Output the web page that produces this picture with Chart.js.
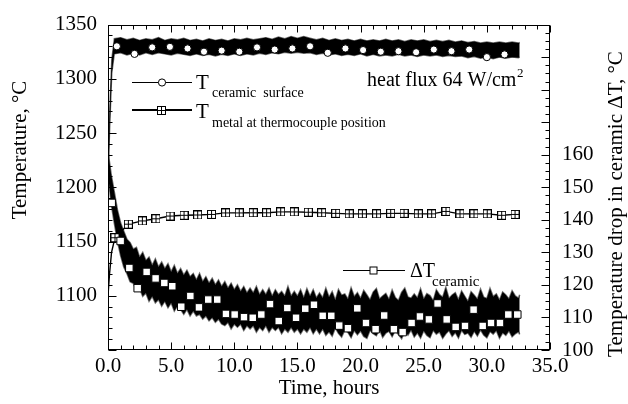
<!DOCTYPE html>
<html>
<head>
<meta charset="utf-8">
<script src="https://cdn.jsdelivr.net/npm/chart.js@4.4.1/dist/chart.umd.min.js"></script>
<style>
  html, body { margin: 0; padding: 0; background: #fff; }
  #wrap { width: 628px; height: 404px; }
</style>
</head>
<body>
<div id="wrap"><canvas id="c" width="628" height="404"></canvas></div>
<script>
// ---- axis ticks ----
const hourTicks = [0, 5, 10, 15, 20, 25, 30, 35];
const tempTicks = [1100, 1150, 1200, 1250, 1300, 1350];
const dropTicks = [100, 110, 120, 130, 140, 150, 160];

// ---- ceramic surface temperature: recorded band (upper / lower edge), deg C ----
const surfT = [0,0.15,0.3,0.5,1,1.5,2,2.5,3,3.5,4,4.5,5,5.5,6,6.5,7,7.5,8,8.5,9,9.5,10,10.5,11,11.5,12,12.5,13,13.5,14,14.5,15,15.5,16,16.5,17,17.5,18,18.5,19,19.5,20,20.5,21,21.5,22,22.5,23,23.5,24,24.5,25,25.5,26,26.5,27,27.5,28,28.5,29,29.5,30,30.5,31,31.5,32,32.5,32.6];
const surfHigh = [1215,1275,1318,1337,
  1338,1336,1337.5,1335.5,1337,1336,1338,1335.5,1337,1336,
  1337.5,1335.5,1336.5,1335,1337,1335.5,1336.5,1335,1337,1336,
  1337.5,1336,1337,1338,1336.5,1338.5,1337,1339,1337.5,1339,
  1337.5,1336,1337.5,1335.5,1337,1335.5,1336.5,1335,1336.5,1335,
  1336,1335,1336.5,1335,1336,1334.5,1336,1335,1336,1334.5,
  1335.5,1334.5,1335.5,1334,1335,1333.5,1334.5,1333,1334,1333,
  1334,1333,1334,1333,1333.5];
const surfLow = [1205,1260,1305,1323,
  1324,1322,1323.5,1322,1324,1322.5,1324,1323,1322,1323.5,
  1322.5,1321.5,1323,1321.5,1322.5,1321,1322.5,1321.5,1323,1321.5,
  1323,1322,1323.5,1322.5,1324,1323,1324.5,1323.5,1324.5,1323.5,
  1324,1322.5,1323.5,1322,1323,1321.5,1322.5,1321.5,1323,1321,
  1322.5,1321,1322,1321,1322.5,1321,1322,1320.5,1322,1321,
  1322,1320.5,1321.5,1320.5,1321,1319.5,1320.5,1319,1320,1318.5,
  1320,1319,1320,1319.5,1320];
// marked samples (open circles)
const surfMarkT = [0.7,2.1,3.5,4.9,6.3,7.6,9.0,10.4,11.8,13.2,14.6,16.0,17.4,18.8,20.2,21.6,23.0,24.4,25.8,27.2,28.6,30.0,31.4];
const surfMarkV = [1330,1323,1329,1329.5,1328,1325,1326,1325,1329,1327,1328,1330,1324,1328,1326.5,1325,1325.5,1324.5,1327,1325.5,1327,1320,1322.5];

// ---- metal temperature at thermocouple position, deg C ----
const metalStartT = [0, 0.12, 0.28];
const metalStartV = [1100, 1120, 1140];
const metalMarkT = [0.55,1.61,2.72,3.8,4.91,6.02,7.1,8.2,9.31,10.39,11.5,12.56,13.67,14.75,15.86,16.92,18.03,19.1,20.14,21.27,22.38,23.44,24.57,25.63,26.76,27.87,28.98,30.03,31.17,32.23];
const metalMarkV = [1153.5,1166,1169,1171,1173.5,1174.2,1174.5,1175,1176.4,1176.4,1176.5,1176.5,1177.3,1177.3,1177,1176.5,1176,1175.5,1175.5,1175.5,1176,1176,1175.5,1175.5,1177.8,1175.5,1175.5,1175.5,1174.2,1175];
const metalEndT = [32.6];
const metalEndV = [1178];

// ---- temperature drop across the ceramic: recorded band, deg C ----
const dropT = [0,0.25,0.5,0.75,1,1.25,1.5,1.75,2,2.25,2.5,2.75,3,3.25,3.5,3.75,4,4.25,4.5,4.75,5,5.25,5.5,5.75,6,6.25,6.5,6.75,7,7.25,7.5,7.75,8,8.25,8.5,8.75,9,9.25,9.5,9.75,10,10.25,10.5,10.75,11,11.25,11.5,11.75,12,12.25,12.5,12.75,13,13.25,13.5,13.75,14,14.25,14.5,14.75,15,15.25,15.5,15.75,16,16.25,16.5,16.75,17,17.25,17.5,17.75,18,18.25,18.5,18.75,19,19.25,19.5,19.75,20,20.25,20.5,20.75,21,21.25,21.5,21.75,22,22.25,22.5,22.75,23,23.25,23.5,23.75,24,24.25,24.5,24.75,25,25.25,25.5,25.75,26,26.25,26.5,26.75,27,27.25,27.5,27.75,28,28.25,28.5,28.75,29,29.25,29.5,29.75,30,30.25,30.5,30.75,31,31.25,31.5,31.75,32,32.25,32.5,32.6];
const dropHigh = [
  161,154,148.5,143,139,136.5,134,133,131,131.5,
  128.5,130,127.5,128.5,126,128,125.5,127,125,126.5,
  124,126,123.5,125,123,124.5,122.5,123.5,121.5,123.5,
  121,122.5,120.5,122,120,121.5,119.5,121,119,120.5,
  118.5,120,118,119.5,117.5,119,117.5,119.5,117,118.5,
  117,119,116.5,118.5,117,118,116.5,119.5,116.5,118,
  116.5,118.5,116,118.8,116.5,118.5,116,117.5,116,119,
  116.2,117.9,115.3,118.6,116.8,117.2,115.6,119.1,116.4,117.6,
  115.8,118.3,116.9,115.4,117.8,118.9,115.7,116.6,117.4,115.5,
  118.4,116.1,115.2,117.7,119.0,116.3,115.9,117.2,116.0,118.8,
  115.6,117.3,116.7,115.1,118.5,117.0,116.2,119.2,115.8,116.9,
  117.6,115.4,118.1,116.5,114.9,117.9,116.8,115.6,118.7,116.2,
  115.8,118.9,116.4,117.2,115.3,117.8,116.9,115.7,118.2,116.6,
  115.9,117.0];
const dropLow = [
  154,145,139,133.5,129,125.5,123.5,121,120.5,118.5,
  119,116.5,117.5,115,116.5,114.5,115.5,113.5,115,113,
  114.5,112,113.5,112.5,111,112.5,110.5,112,110.5,111,
  109.5,110.5,109,110,108.5,109.5,108,107.5,108.5,106.5,
  108,107,108,106,107.5,106.5,107.5,105.5,107,106,
  107.5,105.5,107,106,107,105,106.5,105.5,107,105.5,
  106.5,105,106.5,105.5,107,105,106.5,105,106.5,104.5,
  105.6,104.3,106.8,105.1,104.0,106.2,105.4,103.8,106.0,104.7,
  105.9,104.2,103.6,106.1,105.0,104.4,106.3,103.9,105.2,105.8,
  104.1,106.0,104.8,103.5,105.7,104.6,106.2,104.0,105.3,103.7,
  105.9,104.5,103.8,106.1,104.9,105.6,103.6,105.0,106.0,104.2,
  105.4,103.7,106.1,104.8,105.2,103.9,105.8,104.3,106.2,104.6,
  103.8,105.7,104.9,106.0,103.6,105.3,104.5,105.9,104.1,105.0,
  105.6,104.8];
// marked samples (open squares)
const dropMarkT = [0.29,1.0,1.69,2.35,3.06,3.77,4.46,5.09,5.8,6.52,7.2,7.94,8.65,9.34,10.03,10.77,11.46,12.14,12.83,13.52,14.2,14.89,15.62,16.31,17.0,17.68,18.31,19.0,19.74,20.43,21.19,21.87,22.64,23.33,24.04,24.7,25.41,26.1,26.82,27.53,28.27,28.95,29.67,30.33,31.04,31.7,32.41];
const dropMarkV = [145.2,133.5,125.2,119.0,124.0,122.0,120.6,119.6,113.3,116.6,113.1,115.5,115.5,111.1,110.9,110.1,109.9,110.9,114.1,108.9,112.9,109.9,112.7,113.9,110.5,110.5,107.5,106.7,112.8,108.3,106.4,110.6,106.4,105.5,108.3,110.3,109.4,114.3,109.4,107.1,107.4,112.4,107.4,108.3,108.3,110.9,110.9];

const SERIF = '"Liberation Serif", "Times New Roman", Times, serif';
const pts = (xs, ys) => xs.map((x, i) => ({ x, y: ys[i] }));

// square-with-cross marker for the metal curve
function boxCross(size) {
  const c = document.createElement('canvas');
  c.width = c.height = size;
  const g = c.getContext('2d');
  g.fillStyle = '#fff';
  g.fillRect(0, 0, size, size);
  g.strokeStyle = '#000';
  g.lineWidth = 1;
  g.strokeRect(0.5, 0.5, size - 1, size - 1);
  const m = Math.floor(size / 2) + 0.5;
  g.beginPath();
  g.moveTo(m, 0); g.lineTo(m, size);
  g.moveTo(0, m); g.lineTo(size, m);
  g.stroke();
  return c;
}
const crossMark = boxCross(9);

function fillSq(ctx, x, y, s) {
  ctx.fillStyle = '#fff';
  ctx.fillRect(x - s / 2, y - s / 2, s, s);
  ctx.strokeStyle = '#000';
  ctx.lineWidth = 1;
  ctx.strokeRect(x - s / 2, y - s / 2, s, s);
}

// frame, inward tick marks, titles and in-plot legend
const decor = {
  id: 'decor',
  afterDatasetsDraw(chart) {
    const { ctx, chartArea: a, scales } = chart;
    const L = Math.round(a.left) + 0.5, R = Math.round(a.right) - 0.5;
    const T = Math.round(a.top) + 0.5, B = Math.round(a.bottom) - 0.5;
    ctx.save();
    ctx.strokeStyle = '#000';
    ctx.lineWidth = 1;
    ctx.strokeRect(L, T, R - L, B - T);
    ctx.beginPath();
    const x = scales.x;
    for (let v = x.min; v <= x.max + 1e-6; v += 1) {
      const px = Math.round(x.getPixelForValue(v)) + 0.5;
      const len = v % 5 === 0 ? 7 : 4;
      ctx.moveTo(px, B); ctx.lineTo(px, B - len);
      ctx.moveTo(px, T); ctx.lineTo(px, T + len);
    }
    const yl = scales.y;
    for (let v = yl.min; v <= yl.max + 1e-6; v += 10) {
      const py = Math.round(yl.getPixelForValue(v)) + 0.5;
      const len = v % 50 === 0 ? 8 : 4;
      ctx.moveTo(L, py); ctx.lineTo(L + len, py);
    }
    const yr = scales.y2;
    for (let v = yr.min; v <= yr.max + 1e-6; v += 2.5) {
      const py = Math.round(yr.getPixelForValue(v)) + 0.5;
      const len = v % 10 === 0 ? 8 : 4;
      ctx.moveTo(R, py); ctx.lineTo(R - len, py);
    }
    ctx.stroke();
    ctx.restore();
  },
  afterDraw(chart) {
    const { ctx } = chart;
    ctx.save();
    ctx.fillStyle = '#000';
    ctx.textBaseline = 'alphabetic';

    // axis titles
    ctx.font = '21px ' + SERIF;
    ctx.textAlign = 'center';
    ctx.fillText('Time, hours', 329, 394);
    ctx.save();
    ctx.translate(26, 150);
    ctx.rotate(-Math.PI / 2);
    ctx.fillText('Temperature, \u00B0C', 0, 0);
    ctx.restore();
    ctx.save();
    ctx.translate(622, 204);
    ctx.rotate(-Math.PI / 2);
    ctx.fillText('Temperature drop in ceramic \u0394T, \u00B0C', 0, 0);
    ctx.restore();

    ctx.textAlign = 'left';
    // heat flux note
    ctx.font = '20px ' + SERIF;
    const note = 'heat flux 64 W/cm';
    ctx.fillText(note, 367, 86);
    const nw = ctx.measureText(note).width;
    ctx.font = '13px ' + SERIF;
    ctx.fillText('2', 367 + nw + 0.5, 77);

    // legend: ceramic surface
    ctx.strokeStyle = '#000';
    ctx.lineWidth = 1;
    ctx.beginPath();
    ctx.moveTo(132, 82.5); ctx.lineTo(192, 82.5);
    ctx.stroke();
    ctx.beginPath();
    ctx.arc(162, 82.5, 3.6, 0, Math.PI * 2);
    ctx.fillStyle = '#fff'; ctx.fill(); ctx.stroke();
    ctx.fillStyle = '#000';
    ctx.font = '21px ' + SERIF;
    ctx.fillText('T', 196, 89);
    ctx.font = '14px ' + SERIF;
    ctx.fillText('ceramic  surface', 212, 97);

    // legend: metal at thermocouple
    ctx.lineWidth = 2;
    ctx.beginPath();
    ctx.moveTo(132, 110); ctx.lineTo(192, 110);
    ctx.stroke();
    ctx.drawImage(crossMark, 157, 106);
    ctx.font = '21px ' + SERIF;
    ctx.fillText('T', 196, 118);
    ctx.font = '14px ' + SERIF;
    ctx.fillText('metal at thermocouple position', 212, 127);

    // legend: temperature drop
    ctx.lineWidth = 1;
    ctx.beginPath();
    ctx.moveTo(343, 270.5); ctx.lineTo(405, 270.5);
    ctx.stroke();
    fillSq(ctx, 373.5, 270.5, 7);
    ctx.fillStyle = '#000';
    ctx.font = '20px ' + SERIF;
    ctx.fillText('\u0394T', 410, 277);
    ctx.font = '15px ' + SERIF;
    ctx.fillText('ceramic', 432, 286);
    ctx.restore();
  }
};

const tickFont = { family: SERIF, size: 21 };
const bandEdge = 'rgba(0,0,0,0.55)';

new Chart(document.getElementById('c'), {
  type: 'line',
  data: {
    datasets: [
      { label: 'dT marks', yAxisID: 'y2', order: 0, showLine: false,
        data: pts(dropMarkT, dropMarkV), pointStyle: 'rect', pointRadius: 5.3,
        pointBackgroundColor: '#fff', pointBorderColor: '#000', pointBorderWidth: 1 },
      { label: 'surface marks', yAxisID: 'y', order: 1, showLine: false,
        data: pts(surfMarkT, surfMarkV), pointStyle: 'circle', pointRadius: 3.6,
        pointBackgroundColor: '#fff', pointBorderColor: '#000', pointBorderWidth: 1 },
      { label: 'metal marks', yAxisID: 'y', order: 2, showLine: false,
        data: pts(metalMarkT, metalMarkV), pointStyle: crossMark, pointRadius: 4.5 },
      { label: 'metal', yAxisID: 'y', order: 3,
        data: pts(metalStartT.concat(metalMarkT, metalEndT), metalStartV.concat(metalMarkV, metalEndV)),
        borderColor: '#000', borderWidth: 1.4, pointRadius: 0, fill: false },
      { label: 'dT high', yAxisID: 'y2', order: 4, data: pts(dropT, dropHigh),
        borderColor: bandEdge, borderWidth: 1.6, pointRadius: 0, fill: '+1', backgroundColor: '#000' },
      { label: 'dT low', yAxisID: 'y2', order: 5, data: pts(dropT, dropLow),
        borderColor: bandEdge, borderWidth: 1.6, pointRadius: 0, fill: false },
      { label: 'surface high', yAxisID: 'y', order: 6, data: pts(surfT, surfHigh),
        borderColor: bandEdge, borderWidth: 1.4, pointRadius: 0, fill: '+1', backgroundColor: '#000' },
      { label: 'surface low', yAxisID: 'y', order: 7, data: pts(surfT, surfLow),
        borderColor: bandEdge, borderWidth: 1.4, pointRadius: 0, fill: false }
    ]
  },
  options: {
    responsive: false,
    animation: false,
    devicePixelRatio: 1,
    layout: { padding: { top: 20, left: 0, right: 0, bottom: 0 } },
    plugins: { legend: { display: false }, tooltip: { enabled: false } },
    elements: { line: { tension: 0 } },
    scales: {
      x: {
        type: 'linear', min: 0, max: 35,
        afterBuildTicks: s => { s.ticks = hourTicks.map(v => ({ value: v })); },
        afterFit: s => { s.height = 54; },
        grid: { display: false, drawTicks: false },
        border: { display: false },
        ticks: { font: tickFont, color: '#000', padding: 4, maxRotation: 0,
                 callback: v => Number(v).toFixed(1) }
      },
      y: {
        type: 'linear', position: 'left', min: 1050, max: 1350,
        afterBuildTicks: s => { s.ticks = tempTicks.map(v => ({ value: v })); },
        afterFit: s => { s.width = 108; },
        grid: { display: false, drawTicks: false },
        border: { display: false },
        ticks: { font: tickFont, color: '#000', padding: 11, callback: v => String(v) }
      },
      y2: {
        type: 'linear', position: 'right', min: 100, max: 200,
        afterBuildTicks: s => { s.ticks = dropTicks.map(v => ({ value: v })); },
        afterFit: s => { s.width = 78; },
        grid: { display: false, drawTicks: false },
        border: { display: false },
        ticks: { font: tickFont, color: '#000', padding: 12, callback: v => String(v) }
      }
    }
  },
  plugins: [decor]
});
</script>
</body>
</html>
